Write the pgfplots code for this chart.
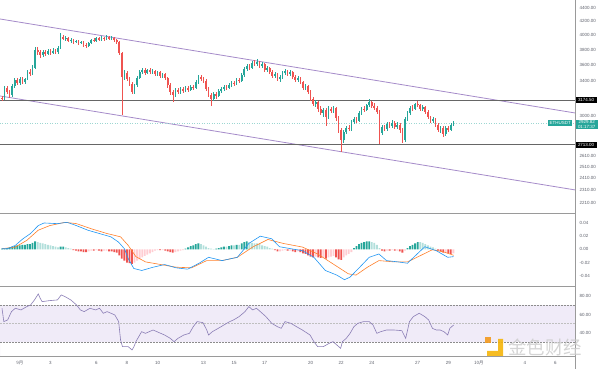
\documentclass[border=0pt]{standalone}
\usepackage{pgfplots}
\pgfplotsset{compat=1.18}
\usepackage{pgfplotstable}
\usepackage{fontspec}
\setmainfont{Liberation Sans}
\newfontfamily\cjk{Noto Sans CJK SC}
\definecolor{up}{HTML}{26A69A}
\definecolor{dn}{HTML}{EF5350}
\definecolor{upl}{HTML}{B2DFDB}
\definecolor{dnl}{HTML}{FFCDD2}
\definecolor{chan}{HTML}{A58BC9}
\definecolor{macdc}{HTML}{2196F3}
\definecolor{sigc}{HTML}{FF7F2A}
\definecolor{rsic}{HTML}{8A7DB5}
\definecolor{band}{HTML}{F0EBF8}
\definecolor{lab}{HTML}{5D606B}
\definecolor{sepc}{HTML}{9A9A9A}
\definecolor{gold}{HTML}{F5B50A}
\definecolor{orng}{HTML}{F39A1E}

% up candles: i open high low close
\pgfplotstableread{
i o h l c
1 3190 3340 3179 3316
4 3236 3364 3213 3340
5 3340 3436 3316 3412
7 3376 3448 3352 3424
9 3388 3436 3364 3424
10 3424 3534 3412 3509
12 3484 3597 3472 3559
13 3559 3834 3547 3793
16 3727 3793 3700 3766
18 3740 3807 3727 3780
20 3753 3820 3740 3780
22 3766 3848 3740 3820
23 3820 4028 3807 3971
25 3944 3985 3916 3957
27 3916 3957 3888 3930
29 3902 3930 3888 3916
31 3888 3916 3875 3902
34 3848 3902 3834 3888
35 3888 3944 3875 3930
37 3916 3971 3902 3957
39 3930 3985 3916 3957
41 3944 4000 3930 3971
43 3944 3985 3930 3957
48 3448 3534 3412 3497
52 3270 3364 3247 3352
53 3352 3460 3328 3436
54 3436 3534 3424 3509
55 3509 3559 3484 3534
57 3497 3547 3484 3534
59 3509 3547 3484 3522
61 3484 3522 3460 3509
63 3460 3497 3436 3484
68 3236 3316 3213 3293
70 3270 3328 3247 3305
72 3282 3340 3270 3316
74 3293 3352 3282 3328
76 3316 3412 3305 3388
77 3388 3472 3364 3448
83 3190 3270 3168 3247
85 3224 3305 3213 3282
86 3282 3328 3259 3305
87 3305 3352 3282 3328
89 3316 3376 3305 3352
90 3352 3400 3328 3376
92 3364 3436 3352 3412
94 3400 3497 3388 3472
95 3472 3572 3448 3547
96 3547 3610 3522 3585
98 3559 3648 3547 3623
100 3610 3674 3585 3636
102 3585 3636 3559 3610
104 3534 3585 3509 3559
107 3460 3509 3436 3484
109 3424 3472 3388 3448
110 3448 3522 3424 3497
111 3497 3547 3472 3522
113 3484 3534 3460 3509
116 3412 3460 3388 3436
119 3316 3364 3293 3340
123 3134 3179 3101 3156
126 3036 3090 2994 3069
128 2994 3112 2973 3079
130 3058 3112 3036 3090
134 2760 2859 2731 2839
135 2839 2900 2819 2880
137 2869 2962 2849 2941
138 2941 2994 2921 2973
140 2952 3058 2941 3036
141 3036 3101 3015 3079
143 3069 3134 3058 3123
144 3123 3190 3101 3156
149 2829 2910 2809 2890
151 2869 2941 2849 2921
153 2900 2962 2880 2931
155 2890 2941 2869 2910
158 2760 2994 2740 2973
159 2973 3058 2952 3036
160 3036 3112 3015 3090
162 3079 3145 3069 3134
165 3079 3123 3058 3101
169 2952 2994 2931 2973
172 2859 2900 2829 2880
174 2819 2900 2799 2880
176 2859 2931 2849 2910
177 2910 2952 2900 2929.82
}\upc

% down candles: i open high low close
\pgfplotstableread{
i o h l c
0 3202 3224 3168 3190
2 3316 3340 3247 3270
3 3270 3293 3202 3236
6 3412 3436 3352 3376
8 3424 3448 3364 3388
11 3509 3547 3460 3484
14 3793 3834 3727 3766
15 3766 3793 3687 3727
17 3766 3793 3713 3740
19 3780 3807 3727 3753
21 3780 3807 3740 3766
24 3971 4000 3930 3944
26 3957 3971 3902 3916
28 3930 3944 3875 3902
30 3916 3930 3861 3888
32 3902 3916 3834 3861
33 3861 3888 3820 3848
36 3930 3957 3902 3916
38 3957 3971 3916 3930
40 3957 3971 3916 3944
42 3971 3985 3930 3944
44 3957 3971 3902 3930
45 3930 3944 3875 3902
46 3902 3916 3727 3753
47 3753 3766 3015 3448
49 3497 3522 3400 3424
50 3424 3448 3340 3364
51 3364 3388 3247 3270
56 3534 3559 3472 3497
58 3534 3559 3484 3509
60 3522 3534 3460 3484
62 3509 3522 3436 3460
64 3484 3497 3412 3436
65 3436 3448 3316 3352
66 3352 3376 3236 3270
67 3270 3293 3156 3236
69 3293 3316 3247 3270
71 3305 3328 3259 3282
73 3316 3340 3270 3293
75 3328 3352 3293 3316
78 3448 3472 3400 3424
79 3424 3448 3376 3400
80 3400 3424 3282 3305
81 3305 3328 3213 3236
82 3236 3259 3112 3190
84 3247 3270 3190 3224
88 3328 3352 3293 3316
91 3376 3400 3340 3364
93 3412 3436 3376 3400
97 3585 3610 3534 3559
99 3623 3661 3585 3610
101 3636 3648 3559 3585
103 3610 3623 3509 3534
105 3559 3572 3484 3509
106 3509 3534 3436 3460
108 3484 3497 3400 3424
112 3522 3534 3460 3484
114 3509 3522 3424 3448
115 3448 3472 3388 3412
117 3436 3448 3364 3388
118 3388 3400 3293 3316
120 3340 3352 3247 3270
121 3270 3293 3168 3190
122 3190 3213 3112 3134
124 3156 3168 3047 3079
125 3079 3112 3015 3036
127 3069 3090 2900 2994
129 3079 3101 3036 3058
131 3090 3101 2952 2983
132 2983 3005 2829 2859
133 2859 2880 2645 2760
136 2880 2910 2849 2869
139 2973 2994 2931 2952
142 3079 3112 3047 3069
145 3156 3168 3090 3112
146 3112 3145 3069 3090
147 3090 3112 3026 3047
148 3047 3069 2721 2829
150 2890 2910 2849 2869
152 2921 2941 2880 2900
154 2931 2952 2869 2890
156 2910 2931 2829 2859
157 2859 2880 2731 2760
161 3090 3123 3058 3079
163 3134 3168 3101 3123
164 3123 3134 3058 3079
166 3101 3112 3026 3047
167 3047 3069 2973 2994
168 2994 3005 2931 2952
170 2973 2983 2890 2910
171 2910 2931 2839 2859
173 2880 2900 2789 2819
175 2880 2900 2839 2859
}\dnc

\tikzset{tinyf/.style={font=\fontsize{4.5}{5}\selectfont}}
\pgfplotsset{
  chartbase/.style={anchor=south west, scale only axis, width=575bp,
    xmin=-0.78, xmax=224.7,
    axis line style={draw=none}, tick style={draw=none}, xtick=\empty,
    ytick pos=right, yticklabel pos=right, scaled y ticks=false,
    yticklabel style={font=\fontsize{4.5}{5}\selectfont, text=lab, anchor=west, inner sep=0pt, xshift=4.5bp}},
  wick/.style={draw=none, no markers, forget plot, error bars/.cd, y dir=plus, y explicit, error mark=none,
    error bar style={draw=#1, solid, line width=0.55bp}},
  body/.style={draw=none, no markers, forget plot, error bars/.cd, y dir=plus, y explicit, error mark=none,
    error bar style={draw=#1, solid, line width=1.7bp}},
  hbar/.style={ybar, bar width=1.8bp, fill=#1, draw=none},
}

\begin{document}
\begin{tikzpicture}
\path[use as bounding box] (0,0) rectangle (600bp,369bp);

% ---------- price pane ----------
\begin{axis}[chartbase, at={(0,156bp)}, height=213bp, clip=false,
  ymode=log, ymin=2132, ymax=4526,
  ytick={2210,2310,2410,2510,2610,3000,3400,3600,3800,4000,4200,4400},
  yticklabels={2210.00,2310.00,2410.00,2510.00,2610.00,3000.00,3400.00,3600.00,3800.00,4000.00,4200.00,4400.00}]
\addplot[chan, line width=0.8bp] coordinates {(-0.78,4232) (224.7,3036)};
\addplot[chan, line width=0.8bp] coordinates {(-0.78,3224) (224.7,2313)};
\addplot[up!45, dotted, line width=0.5bp] coordinates {(-0.78,2929.82) (224.7,2929.82)};
\addplot[black!60, line width=0.9bp] coordinates {(-0.78,3174.5) (224.7,3174.5)};
\addplot[black!60, line width=0.9bp] coordinates {(-0.78,2713) (224.7,2713)};
% wicks
\addplot[wick=up] table[x=i, y=l, y error plus expr={\thisrow{h}-\thisrow{l}}] {\upc};
\addplot[wick=dn] table[x=i, y=l, y error plus expr={\thisrow{h}-\thisrow{l}}] {\dnc};
% bodies
\addplot[body=up] table[x=i, y=o, y error plus expr={\thisrow{c}-\thisrow{o}}] {\upc};
\addplot[body=dn] table[x=i, y=c, y error plus expr={\thisrow{o}-\thisrow{c}}] {\dnc};
% price boxes
\node[tinyf, fill=black, text=white, anchor=west, inner xsep=2.3bp, inner ysep=1.3bp] at (axis cs:224.7,3174.5) [xshift=0.5bp] {3174.50};
\node[tinyf, fill=black, text=white, anchor=west, inner xsep=2.3bp, inner ysep=1.3bp] at (axis cs:224.7,2713) [xshift=0.5bp] {2713.00};
\node[tinyf, fill=up, text=white, anchor=east, inner xsep=1.5bp, inner ysep=1.3bp] at (axis cs:224.7,2929.82) [xshift=-2.5bp] {ETHUSDT};
\node[tinyf, fill=up, text=white, anchor=north west, inner xsep=2.3bp, inner ysep=1bp, align=center] at (axis cs:224.7,2929.82) [xshift=0.5bp, yshift=3.5bp] {2929.82\\[-0.6bp]01:17:37};
\end{axis}

% ---------- MACD pane ----------
\begin{axis}[chartbase, at={(0,83bp)}, height=72bp,
  ymin=-0.0555, ymax=0.0536,
  ytick={-0.04,-0.02,0,0.02,0.04},
  yticklabels={-0.04,-0.02,0.00,0.02,0.04}]
\addplot[hbar=up] coordinates {(0,0.001)(1,0.001)(2,0.002)(3,0.003)(4,0.004)(5,0.005)(6,0.006)(7,0.006)(8,0.007)(9,0.007)(10,0.008)(11,0.008)(12,0.010)(13,0.012)(23,0.004)(24,0.004)(72,0.001)(73,0.003)(74,0.005)(75,0.006)(76,0.008)(77,0.009)(84,0.001)(85,0.002)(86,0.003)(87,0.004)(89,0.005)(90,0.006)(92,0.007)(94,0.009)(95,0.011)(96,0.012)(138,0.002)(139,0.005)(140,0.008)(141,0.010)(142,0.011)(143,0.012)(144,0.012)(159,0.002)(160,0.005)(161,0.007)(162,0.009)(163,0.011)};
\addplot[hbar=upl] coordinates {(14,0.011)(15,0.010)(16,0.009)(17,0.008)(18,0.007)(19,0.006)(20,0.005)(21,0.004)(22,0.003)(25,0.003)(26,0.002)(27,0.001)(78,0.008)(79,0.006)(80,0.004)(81,0.002)(82,0.001)(83,0.0005)(88,0.004)(91,0.006)(93,0.007)(97,0.011)(98,0.010)(99,0.009)(100,0.009)(101,0.008)(102,0.006)(103,0.005)(104,0.004)(105,0.002)(106,0.001)(145,0.011)(146,0.010)(147,0.007)(148,0.002)(164,0.011)(165,0.010)(166,0.008)(167,0.006)(168,0.004)(169,0.003)(170,0.001)};
\addplot[hbar=dnl] coordinates {(34,-0.003)(35,-0.002)(37,-0.001)(40,-0.002)(41,-0.002)(52,-0.020)(53,-0.017)(54,-0.015)(55,-0.012)(56,-0.010)(57,-0.008)(58,-0.006)(59,-0.004)(60,-0.002)(61,-0.001)(63,-0.001)(68,-0.004)(69,-0.003)(70,-0.002)(71,-0.001)(109,-0.003)(110,-0.002)(111,-0.001)(113,-0.002)(116,-0.003)(123,-0.011)(126,-0.012)(128,-0.012)(129,-0.011)(130,-0.010)(134,-0.012)(135,-0.009)(136,-0.007)(137,-0.004)(151,-0.002)(153,-0.001)(155,-0.002)(158,-0.002)(174,-0.005)(177,-0.006)};
\addplot[hbar=dn] coordinates {(28,-0.001)(29,-0.002)(30,-0.003)(31,-0.003)(32,-0.004)(33,-0.004)(36,-0.002)(38,-0.002)(39,-0.003)(42,-0.003)(43,-0.003)(44,-0.004)(45,-0.005)(46,-0.009)(47,-0.014)(48,-0.017)(49,-0.020)(50,-0.021)(51,-0.022)(62,-0.001)(64,-0.002)(65,-0.003)(66,-0.004)(67,-0.005)(107,-0.001)(108,-0.003)(112,-0.002)(114,-0.003)(115,-0.004)(117,-0.004)(118,-0.006)(119,-0.007)(120,-0.009)(121,-0.011)(122,-0.012)(124,-0.012)(125,-0.013)(127,-0.014)(131,-0.012)(132,-0.015)(133,-0.016)(149,-0.002)(150,-0.003)(152,-0.002)(154,-0.002)(156,-0.003)(157,-0.005)(171,-0.002)(172,-0.003)(173,-0.005)(175,-0.006)(176,-0.007)};
\addplot[sigc, line width=0.6bp] coordinates {
(0,0.001) (5.2,0.0035) (9.7,0.0136) (14.2,0.029) (18.7,0.036) (24.7,0.041) (29.2,0.039)
(35.2,0.031) (41.2,0.024) (46.5,0.019) (49.5,0.006) (52.5,-0.011) (56.3,-0.019) (62.3,-0.023)
(68.3,-0.027) (74.3,-0.028) (80.3,-0.017) (86.3,-0.017) (92.3,-0.012) (98.3,0.0035) (104.3,0.015)
(110.3,0.009) (117.8,0.0035) (123.8,-0.007) (129.8,-0.022) (135.8,-0.037) (138.8,-0.039)
(143.3,-0.027) (147.8,-0.017) (153.8,-0.019) (159,-0.019) (164.3,-0.009) (168.8,-0.0005)
(173.3,-0.004) (177.1,-0.009)};
\addplot[macdc, line width=0.6bp] coordinates {
(0,0.001) (2.2,0.001) (5.2,0.006) (8.2,0.016) (11.2,0.024) (14.2,0.036) (16.5,0.040) (21.7,0.039)
(25.5,0.041) (29.2,0.036) (33.7,0.029) (38.2,0.024) (42.7,0.019) (45.7,0.011) (48,0.001)
(49.5,-0.014) (51.7,-0.029) (54.8,-0.032) (59.3,-0.027) (63.8,-0.023) (68.3,-0.028) (72.8,-0.030)
(77.3,-0.021) (81,-0.012) (86.3,-0.017) (92.3,-0.012) (96.8,0.009) (101.3,0.020) (105.8,0.016)
(108.8,0.004) (113.3,0.001) (117.8,-0.002) (122.3,-0.012) (126.8,-0.032) (131.3,-0.039)
(134.3,-0.046) (136.5,-0.042) (140.3,-0.027) (144,-0.012) (147.8,-0.007) (150.8,-0.017)
(155.3,-0.019) (159,-0.021) (162.8,-0.007) (165.8,0.004) (170.3,-0.002) (174.8,-0.012) (177.1,-0.011)};
\end{axis}

% ---------- RSI pane ----------
\begin{axis}[chartbase, at={(0,13bp)}, height=69bp,
  ymin=15.1, ymax=89.7,
  ytick={40,60,80}, yticklabels={40.00,60.00,80.00},
  xtick={7,19,37,49,61,79,91,103,121,133,145,163,175,187,205,217},
  xticklabels={{\cjk 9月},3,6,8,10,13,15,17,20,22,24,27,29,{\cjk 10月},4,6},
  xticklabel style={font=\fontsize{4.5}{5}\selectfont, text=lab, anchor=center, inner sep=0pt, yshift=-6.5bp}]
\addplot[fill=band, draw=none] coordinates {(-0.78,30) (224.7,30) (224.7,70) (-0.78,70)} \closedcycle;
\addplot[black!45, dash pattern=on 1.5bp off 1.5bp, line width=0.5bp] coordinates {(-0.78,70) (224.7,70)};
\addplot[black!45, dash pattern=on 1.5bp off 1.5bp, line width=0.5bp] coordinates {(-0.78,30) (224.7,30)};
\addplot[black!25, dash pattern=on 1.5bp off 1.5bp, line width=0.5bp] coordinates {(-0.78,50) (224.7,50)};
\addplot[rsic, line width=0.6bp] coordinates {
(0,66.7) (0.72,52.3) (2.22,54.1) (3.72,63.1) (5.22,66.7) (7.47,64.9) (9.73,68.5) (11.23,70.3)
(12.73,75.7) (14.23,82.2) (14.98,77.5) (15.73,73.9) (18.73,75.0) (21.73,75.7) (23.23,81.1)
(24.73,79.3) (26.98,75.7) (29.24,70.3) (30.74,64.9) (32.24,63.1) (34.49,66.7) (36.74,64.9)
(38.24,66.7) (39.74,61.3) (41.24,63.1) (44.24,59.5) (45.75,52.3) (46.5,32.4) (47.25,25.2)
(49.5,25.2) (51.0,21.6) (51.75,25.2) (52.5,30.6) (53.25,34.2) (54.75,41.4) (56.25,39.6)
(59.25,43.2) (60.75,41.4) (62.26,39.6) (63.76,37.8) (66.0,34.2) (67.5,30.6) (69.0,34.2)
(71.3,37.8) (73.5,39.6) (75.0,46.8) (76.5,52.3) (78.8,51.2) (80.3,43.2) (81.0,37.8) (82.5,41.4)
(84.8,45.0) (87.0,48.6) (89.3,52.3) (90.8,54.1) (93.0,57.7) (95.3,63.1) (96.8,68.5) (98.3,64.9)
(99.8,66.7) (101.3,63.1) (103.5,57.7) (105.8,50.4) (108.0,46.8) (109.5,45.0) (111.0,52.3)
(113.3,50.4) (115.5,46.8) (117.8,43.2) (120.8,37.8) (122.3,30.6) (123.8,25.2) (126.0,25.2)
(128.3,28.8) (129.8,30.6) (131.3,27.0) (132.8,23.4) (133.5,30.6) (135.0,34.2) (136.5,39.6)
(138.0,46.8) (139.5,50.4) (141.8,52.3) (144.0,52.3) (145.5,48.6) (147.0,39.6) (148.5,41.4)
(150.8,43.2) (153.8,43.2) (156.8,42.5) (158.3,34.2) (159.8,52.3) (161.3,57.7) (163.6,61.3)
(165.8,57.7) (167.3,54.1) (168.8,45.0) (170.3,43.2) (171.8,43.2) (173.3,41.4) (174.8,37.8)
(175.6,45.0) (177.1,48.6)};
\end{axis}

% ---------- frame lines ----------
\draw[sepc, line width=0.8bp] (0,155.5bp) -- (575bp,155.5bp);
\draw[sepc, line width=0.8bp] (0,82.5bp) -- (575bp,82.5bp);
\draw[sepc, line width=0.8bp] (0,13bp) -- (575bp,13bp);
\draw[sepc, line width=0.8bp] (575bp,0) -- (575bp,369bp);

% ---------- watermark ----------
\fill[orng, opacity=0.9] (485bp,26bp) rectangle (490.5bp,31.5bp);
\fill[gold, opacity=0.9] (498bp,30bp) -- (503bp,30bp) -- (503bp,13bp) -- (487bp,13bp) -- (487bp,18bp) -- (498bp,18bp) -- cycle;
\node[font=\cjk\fontsize{18.5}{20}\selectfont, text=black!20, opacity=0.85, anchor=west, inner sep=0pt] at (508bp,21.5bp) {金色财经};
\end{tikzpicture}
\end{document}
